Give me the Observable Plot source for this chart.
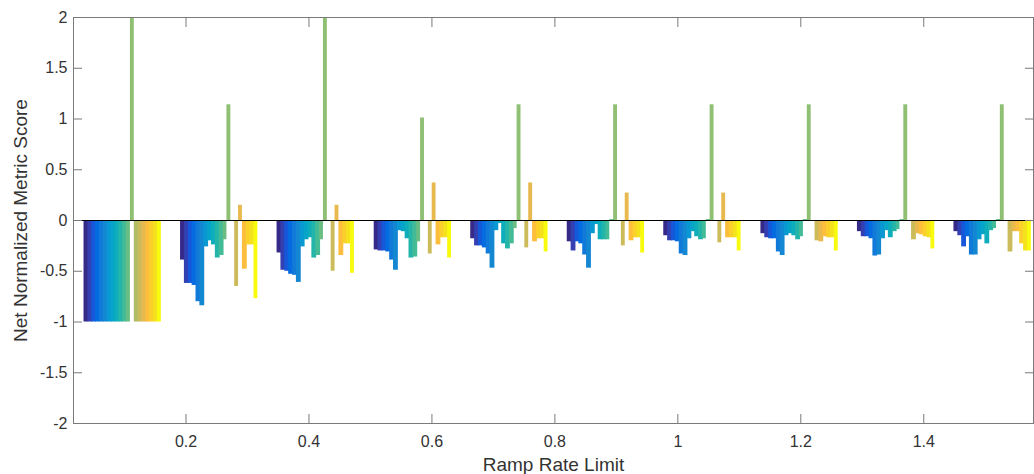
<!DOCTYPE html>
<html>
<head>
<meta charset="utf-8">
<script src="https://cdn.jsdelivr.net/npm/d3@7"></script>
<script src="https://cdn.jsdelivr.net/npm/@observablehq/plot@0.6"></script>
<style>
  html, body { margin: 0; padding: 0; background: #fff; }
  #chart svg { display: block; }
</style>
</head>
<body>
<div id="chart"></div>
<script>
// ---- data ----
const rampRates = [0.097, 0.254, 0.411, 0.569, 0.726, 0.883, 1.040, 1.198, 1.355, 1.512];
const seriesIds = d3.range(1, 21); // 20 series per group
const g1  = [-1, -1, -1, -1, -1, -1, -1, -1, -1, -1, -1, -1, 2, -1, -1, -1, -1, -1, -1, -1];
const g2  = [-0.39, -0.62, -0.62, -0.64, -0.80, -0.84, -0.26, -0.20, -0.24, -0.37, -0.345, -0.19, 1.14, 0, -0.65, 0.15, -0.48, -0.24, -0.24, -0.77];
const g3  = [-0.32, -0.49, -0.50, -0.53, -0.54, -0.61, -0.26, -0.19, -0.17, -0.37, -0.345, -0.19, 2, 0, -0.50, 0.15, -0.345, -0.23, -0.23, -0.52];
const g4  = [-0.29, -0.30, -0.30, -0.31, -0.39, -0.49, -0.10, -0.11, -0.18, -0.37, -0.36, -0.21, 1.01, 0, -0.33, 0.37, -0.24, -0.17, -0.17, -0.37];
const g5  = [-0.18, -0.25, -0.25, -0.27, -0.33, -0.47, -0.10, -0.03, -0.23, -0.28, -0.23, -0.08, 1.14, 0, -0.27, 0.37, -0.21, -0.18, -0.18, -0.31];
const g6  = [-0.21, -0.30, -0.21, -0.23, -0.34, -0.47, -0.13, -0.04, -0.19, -0.19, -0.19, 0.01, 1.14, 0, -0.25, 0.27, -0.20, -0.17, -0.17, -0.32];
const g7  = [-0.15, -0.20, -0.20, -0.21, -0.33, -0.345, -0.18, -0.11, -0.16, -0.19, -0.18, 0.01, 1.14, 0, -0.22, 0.27, -0.17, -0.17, -0.17, -0.30];
const g8  = [-0.13, -0.17, -0.18, -0.18, -0.31, -0.345, -0.15, -0.13, -0.15, -0.19, -0.16, 0.01, 1.14, 0, -0.20, -0.21, -0.16, -0.17, -0.17, -0.30];
const g9  = [-0.11, -0.16, -0.16, -0.18, -0.35, -0.34, -0.18, -0.10, -0.17, -0.11, -0.09, 0.01, 1.14, 0, -0.19, -0.13, -0.14, -0.16, -0.17, -0.28];
const g10 = [-0.11, -0.15, -0.26, -0.16, -0.34, -0.34, -0.19, -0.14, -0.23, -0.10, -0.08, 0.01, 1.14, 0, -0.31, -0.11, -0.11, -0.23, -0.30, -0.30];
const groups = [g1, g2, g3, g4, g5, g6, g7, g8, g9, g10];

const xTicks = [0.2, 0.4, 0.6, 0.8, 1, 1.2, 1.4];
const yTicks = [-2, -1.5, -1, -0.5, 0, 0.5, 1, 1.5, 2];

// ---- style ----
const parula = ["#352a87", "#343fb1", "#1558da", "#046ce0", "#117ad9", "#1487d3", "#0998d1",
  "#06a4c9", "#0dadbb", "#24b5aa", "#44bb97", "#6abe83", "#8fbf73", "#afbd67", "#ccbb5b",
  "#e7b94f", "#fdbe3d", "#fbd02c", "#f5e21e", "#f9fb0e"];
const axisColor = "#7a7a7a";
const textColor = "#333333";
const font = "'Liberation Sans', Arial, Helvetica, sans-serif";

// grouped-bar layout (MATLAB style: group width 0.8 of spacing)
const spacing = (rampRates[rampRates.length - 1] - rampRates[0]) / (rampRates.length - 1);
const n = seriesIds.length;
const barW = spacing * 0.8 / n;
const overlap = 1.25; // each bar runs a little under its right neighbour so no seams show
const rows = [];
groups.forEach((vals, g) => {
  vals.forEach((v, s) => {
    const x1 = rampRates[g] + (s - n / 2) * barW;
    const last = s === n - 1 || vals[s + 1] === 0 || Math.sign(vals[s + 1]) !== Math.sign(v);
    rows.push({g, s, x1, x2: x1 + barW * (last ? 1 : overlap), v});
  });
});

const chart = Plot.plot({
  width: 1034,
  height: 474,
  marginLeft: 73,
  marginRight: 1,
  marginTop: 17,
  marginBottom: 51,
  style: {fontFamily: font, background: "#fff"},
  x: {domain: [0.017, 1.5785], label: null},
  y: {domain: [-2, 2], label: null},
  marks: [
    Plot.rectY(rows, {x1: "x1", x2: "x2", y1: 0, y2: "v", fill: d => parula[d.s], clip: true}),
    Plot.ruleY([0], {stroke: "#000", strokeWidth: 1}),
    Plot.frame({stroke: axisColor, strokeWidth: 1}),
    // inward ticks on all four sides
    Plot.axisX(xTicks, {anchor: "bottom", tickSize: 9, dy: -9, tickFormat: () => "", stroke: axisColor, label: null}),
    Plot.axisX(xTicks, {anchor: "top", tickSize: 9, dy: 9, tickFormat: () => "", stroke: axisColor, label: null}),
    Plot.axisY(yTicks, {anchor: "left", tickSize: 9, dx: 9, tickFormat: () => "", stroke: axisColor, label: null}),
    Plot.axisY(yTicks, {anchor: "right", tickSize: 9, dx: -9, tickFormat: () => "", stroke: axisColor, label: null}),
    // tick labels
    Plot.axisX(xTicks, {anchor: "bottom", tickSize: 0, tickPadding: 12, fontSize: 16, color: textColor, tickFormat: d => String(d), label: null}),
    Plot.axisY(yTicks, {anchor: "left", tickSize: 0, tickPadding: 6, fontSize: 16, color: textColor, tickFormat: d => String(d), label: null}),
    // axis titles
    Plot.text(["Ramp Rate Limit"], {frameAnchor: "bottom", textAnchor: "middle", lineAnchor: "bottom", dy: 47, fontSize: 19, fill: textColor, text: d => d}),
    Plot.text(["Net Normalized Metric Score"], {frameAnchor: "left", textAnchor: "middle", lineAnchor: "bottom", rotate: -90, dx: -46.5, fontSize: 19, fill: textColor, text: d => d})
  ]
});
document.getElementById("chart").appendChild(chart);
</script>
</body>
</html>
